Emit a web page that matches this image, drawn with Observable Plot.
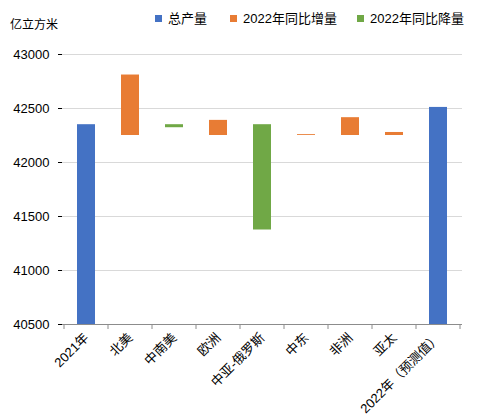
<!DOCTYPE html>
<html>
<head>
<meta charset="utf-8">
<script src="https://cdn.jsdelivr.net/npm/d3@7"></script>
<script src="https://cdn.jsdelivr.net/npm/@observablehq/plot@0.6"></script>
<style>
  body { margin: 0; background: #fff; }
  #wrap { position: relative; width: 489px; height: 416px; font-family: "Liberation Sans", Arial, "Noto Sans CJK SC", sans-serif; color: #000; }
  .lg { position: absolute; top: 11px; font-size: 13px; line-height: 16px; white-space: nowrap; }
  .sw { display: inline-block; width: 7px; height: 7px; margin-right: 6px; vertical-align: 1px; }
  #ylab { position: absolute; left: 10px; top: 15px; font-size: 12px; }
  svg { display: block; }
</style>
</head>
<body>
<div id="wrap">
  <div id="ylab">亿立方米</div>
  <div id="legend"></div>
</div>
<script>
const categories = ["2021年", "北美", "中南美", "欧洲", "中亚-俄罗斯", "中东", "非洲", "亚太", "2022年（预测值）"];
const totals = [42350, null, null, null, null, null, null, null, 42510];
const increaseFrom = [null, 42250, null, 42250, null, 42250, 42250, 42250, null];
const increaseTo = [null, 42810, null, 42390, null, 42258, 42415, 42278, null];
const decreaseFrom = [null, null, 42350, null, 42350, null, null, null, null];
const decreaseTo = [null, null, 42322, null, 41375, null, null, null, null];
const yTicks = [40500, 41000, 41500, 42000, 42500, 43000];
const seriesNames = ["总产量", "2022年同比增量", "2022年同比降量"];
const seriesColors = ["#4472C4", "#E87C34", "#70A846"];

const yDomain = [yTicks[0], yTicks[yTicks.length - 1]];

const totalRows = categories.map((c, i) => ({cat: c, v: totals[i]})).filter(d => d.v != null);
const incRows = categories.map((c, i) => ({cat: c, a: increaseFrom[i], b: increaseTo[i]})).filter(d => d.a != null);
const decRows = categories.map((c, i) => ({cat: c, a: decreaseFrom[i], b: decreaseTo[i]})).filter(d => d.a != null);

function boundaryTicks(index, scales) {
  const x = scales.x, y = scales.y;
  const bw = typeof x.bandwidth === "function" ? x.bandwidth() : x.bandwidth;
  const step = x(categories[1]) - x(categories[0]);
  const y0 = y(yDomain[0]);
  const g = d3.create("svg:g").attr("stroke", "#8c8c8c").attr("stroke-width", 1);
  const pos = categories.map(c => x(c) + bw / 2 - step / 2);
  pos.push(pos[pos.length - 1] + step);
  for (const p of pos) {
    g.append("line").attr("x1", p).attr("x2", p).attr("y1", y0).attr("y2", y0 + 5);
  }
  return g.node();
}

const chart = Plot.plot({
  width: 489,
  height: 416,
  marginTop: 54,
  marginLeft: 62,
  marginRight: 27,
  marginBottom: 92,
  style: {fontFamily: '"Liberation Sans", Arial, "Noto Sans CJK SC", sans-serif', fontSize: "13px", background: "#fff", color: "#000", overflow: "visible"},
  x: {domain: categories, paddingInner: 0.6, paddingOuter: 0.3, label: null},
  y: {domain: yDomain, label: null},
  marks: [
    Plot.gridY(yTicks, {stroke: "#d9d9d9", strokeOpacity: 1}),
    Plot.barY(totalRows, {x: "cat", y: "v", fill: seriesColors[0], clip: true}),
    Plot.barY(incRows, {x: "cat", y1: "a", y2: "b", fill: seriesColors[1]}),
    Plot.barY(decRows, {x: "cat", y1: "a", y2: "b", fill: seriesColors[2]}),
    Plot.ruleY([yDomain[0]], {stroke: "#8c8c8c"}),
    Plot.ruleY([0], {render: boundaryTicks}),
    Plot.axisY(yTicks, {tickSize: 4, tickPadding: 9, line: true, stroke: "#000", fontSize: 13, label: null, tickFormat: d => String(d)}),
    Plot.axisX({tickSize: 0, tickPadding: 11, tickRotate: -45, fontSize: 13, label: null})
  ]
});
document.getElementById("wrap").prepend(chart);

const legendX = [155, 230, 357];
const legend = document.getElementById("legend");
seriesNames.forEach((n, i) => {
  const d = document.createElement("div");
  d.className = "lg";
  d.style.left = legendX[i] + "px";
  d.innerHTML = `<span class="sw" style="background:${seriesColors[i]}"></span>${n}`;
  legend.appendChild(d);
});
</script>
</body>
</html>
